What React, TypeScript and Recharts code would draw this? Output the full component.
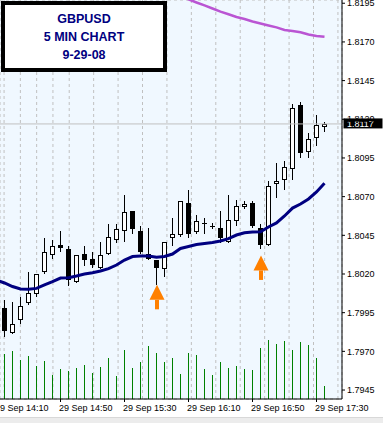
import React from 'react';
import { ComposedChart, Bar, Line, Scatter, XAxis, YAxis, CartesianGrid, ReferenceLine } from 'recharts';

const times = [
  '14:15', '14:20', '14:25', '14:30', '14:35', '14:40', '14:45', '14:50', '14:55',
  '15:00', '15:05', '15:10', '15:15', '15:20', '15:25', '15:30', '15:35', '15:40', '15:45', '15:50', '15:55',
  '16:00', '16:05', '16:10', '16:15', '16:20', '16:25', '16:30', '16:35', '16:40', '16:45', '16:50', '16:55',
  '17:00', '17:05', '17:10', '17:15', '17:20', '17:25', '17:30', '17:35',
];
const open = [1.7998, 1.7982, 1.7990, 1.8001, 1.8007, 1.8021, 1.8032, 1.8039, 1.8036, 1.8015, 1.8033, 1.8030, 1.8024, 1.8033, 1.8042, 1.8048, 1.8061, 1.8048, 1.8033, 1.8029, 1.8023, 1.8043, 1.8045, 1.8066, 1.8047, 1.8053, 1.8051, 1.8050, 1.8041, 1.8054, 1.8063, 1.8066, 1.8050, 1.8039, 1.8078, 1.8081, 1.8088, 1.8129, 1.8099, 1.8108, 1.8115];
const high = [1.8003, 1.8002, 1.8005, 1.8021, 1.8020, 1.8043, 1.8042, 1.8048, 1.8038, 1.8032, 1.8038, 1.8034, 1.8041, 1.8052, 1.8052, 1.8071, 1.8061, 1.8051, 1.8050, 1.8029, 1.8041, 1.8056, 1.8067, 1.8074, 1.8058, 1.8056, 1.8053, 1.8061, 1.8071, 1.8068, 1.8067, 1.8067, 1.8052, 1.8080, 1.8092, 1.8093, 1.8130, 1.8131, 1.8111, 1.8123, 1.8118];
const low = [1.7979, 1.7981, 1.7988, 1.8000, 1.8005, 1.8020, 1.8030, 1.8034, 1.8012, 1.8014, 1.8025, 1.8024, 1.8023, 1.8032, 1.8040, 1.8041, 1.8046, 1.8033, 1.8029, 1.8013, 1.8018, 1.8038, 1.8044, 1.8043, 1.8046, 1.8046, 1.8049, 1.8040, 1.8040, 1.8051, 1.8062, 1.8050, 1.8036, 1.8038, 1.8069, 1.8074, 1.8081, 1.8095, 1.8095, 1.8103, 1.8112];
const close = [1.7983, 1.7988, 1.7999, 1.8008, 1.8020, 1.8034, 1.8038, 1.8037, 1.8016, 1.8032, 1.8029, 1.8026, 1.8032, 1.8044, 1.8049, 1.8060, 1.8049, 1.8034, 1.8030, 1.8024, 1.8041, 1.8046, 1.8067, 1.8046, 1.8054, 1.8052, 1.8051, 1.8043, 1.8055, 1.8064, 1.8065, 1.8051, 1.8039, 1.8077, 1.8080, 1.8089, 1.8127, 1.8098, 1.8107, 1.8116, 1.8117];
const volume = [45, 48, 39, 43, 33, 38, 24, 30, 28, 31, 34, 26, 32, 41, 23, 49, 31, 37, 53, 46, 37, 41, 25, 46, 44, 30, 24, 37, 31, 33, 30, 29, 51, 59, 55, 58, 49, 57, 54, 41, 13];
// fast moving average (the first value belongs to the 14:10 bar, left of the window)
const maFastPrev = 1.8016;
const maFast = [1.80142, 1.80119, 1.80103, 1.80101, 1.80107, 1.80129, 1.8015, 1.80174, 1.80176, 1.80187, 1.8020, 1.80208, 1.80219, 1.80235, 1.80258, 1.8029, 1.80313, 1.80316, 1.80316, 1.80308, 1.80313, 1.80329, 1.80365, 1.80378, 1.80391, 1.80397, 1.80403, 1.80413, 1.80429, 1.80452, 1.80467, 1.80471, 1.80473, 1.80504, 1.8053, 1.80575, 1.80626, 1.80652, 1.80685, 1.8073, 1.80786];
// slow moving average, visible from the 16:05 bar on
const maSlowStart = 22;
const maSlow = [1.81994, 1.81975, 1.81955, 1.81936, 1.81916, 1.81896, 1.81879, 1.81861, 1.81848, 1.81832, 1.81819, 1.81806, 1.81794, 1.81777, 1.81771, 1.81763, 1.81748, 1.81739, 1.81734];
const arrowBars = [19, 32];
const arrowPrices = [1.8013, 1.8032];
const priceTicks = [1.7945, 1.7970, 1.7995, 1.8020, 1.8045, 1.8070, 1.8095, 1.8120, 1.8145, 1.8170, 1.8195];
const timeTickPos = [-1, 3, 7, 11, 15, 19, 23, 27, 31, 35, 39];
const timeTickLabels = ['29 Sep 14:10', '', '29 Sep 14:50', '', '29 Sep 15:30', '', '29 Sep 16:10', '', '29 Sep 16:50', '', '29 Sep 17:30'];
const lastPrice = 1.8117;

const rows: any[] = [
  { k: -1, ma: maFastPrev },
  ...times.map((t, i) => ({
    k: i,
    t,
    o: open[i],
    h: high[i],
    l: low[i],
    c: close[i],
    range: [low[i], high[i]],
    vol: volume[i],
    ma: maFast[i],
    ma2: i >= maSlowStart ? maSlow[i - maSlowStart] : undefined,
  })),
];
const arrowData = arrowBars.map((k, i) => ({ k, p: arrowPrices[i] }));

const FONT = '"Liberation Sans", Arial, sans-serif';

const Candle = (props: any) => {
  const { x, y, width, height, payload } = props;
  if (!payload || payload.o == null || !isFinite(y) || !isFinite(height)) return null;
  const { o, h, l, c } = payload;
  const cx = Math.round(x + width / 2 - 0.5) + 0.5;
  const yTop = Math.min(y, y + height);
  const yBot = Math.max(y, y + height);
  const py = (v: number) => yTop + ((h - v) / (h - l)) * (yBot - yTop);
  const bTop = py(Math.max(o, c));
  const bBot = py(Math.min(o, c));
  const bull = c >= o;
  const wick = <line x1={cx} x2={cx} y1={Math.round(yTop)} y2={Math.round(yBot)} stroke="#000" strokeWidth={1} />;
  if (bBot - bTop < 1.2) {
    const yy = Math.round(bTop) + 0.5;
    return (
      <g>
        {wick}
        <line x1={cx - 2.5} x2={cx + 2.5} y1={yy} y2={yy} stroke="#000" strokeWidth={1} />
      </g>
    );
  }
  if (bull) {
    const t = Math.round(bTop) + 0.5;
    const b = Math.round(bBot) - 0.5;
    return (
      <g>
        {wick}
        <rect x={cx - 2} y={t} width={4} height={Math.max(b - t, 1)} fill="#fff" stroke="#000" strokeWidth={1} />
      </g>
    );
  }
  const t = Math.round(bTop);
  const b = Math.round(bBot);
  return (
    <g>
      {wick}
      <rect x={cx - 2.5} y={t} width={5} height={Math.max(b - t, 1)} fill="#000" />
    </g>
  );
};

const VolBar = (props: any) => {
  const { x, y, width, height } = props;
  if (!isFinite(y) || !isFinite(height) || !height) return null;
  const cx = Math.round(x + width / 2 - 0.5) + 0.5;
  return <line x1={cx} x2={cx} y1={Math.round(y)} y2={Math.round(y + height)} stroke="#008000" strokeWidth={1} shapeRendering="crispEdges" />;
};

const Arrow = (props: any) => {
  const { cx, cy } = props;
  if (!isFinite(cx) || !isFinite(cy)) return null;
  const x = cx + 0.5;
  return (
    <g fill="#FF8000">
      <polygon points={`${x},${cy} ${x - 7.5},${cy + 15} ${x + 7.5},${cy + 15}`} />
      <rect x={x - 2} y={cy + 15} width={4} height={9.5} />
    </g>
  );
};

const XTick = (props: any) => {
  const { x, y, payload } = props;
  const idx = timeTickPos.indexOf(payload.value);
  const label = idx >= 0 ? timeTickLabels[idx] : '';
  if (!label) return null;
  return (
    <g>
      <line x1={x} x2={x} y1={y} y2={y + 3} stroke="#000" strokeWidth={1} />
      <text x={x - 1.5} y={y + 12} fontSize={9} fontFamily={FONT} fill="#000" textAnchor="start">
        {label}
      </text>
    </g>
  );
};

const PriceBox = (props: any) => {
  const vb = props.viewBox || {};
  const right = (vb.x || 0) + (vb.width || 0);
  const yy = vb.y || 0;
  return (
    <g>
      <rect x={right + 1.5} y={yy - 5.5} width={39} height={10} fill="#000" />
      <text x={right + 5} y={yy + 3.3} fontSize={9} fontFamily={FONT} fill="#fff" textAnchor="start">
        {lastPrice.toFixed(4)}
      </text>
    </g>
  );
};

export default function App() {
  return (
    <div style={{ position: 'absolute', left: 0, top: 0, width: 383, height: 423, background: '#fff', overflow: 'hidden' }}>
      <ComposedChart width={383} height={418} data={rows} margin={{ top: 0, right: 0, bottom: 0, left: 0 }}>
        <CartesianGrid stroke="#c0c0c0" strokeDasharray="3 3" fill="#F0F8FF" />
        <XAxis
          xAxisId="p"
          dataKey="k"
          type="number"
          domain={[-0.5625, 42.1875]}
          allowDataOverflow
          ticks={timeTickPos}
          interval={0}
          height={19}
          tickSize={0}
          tickMargin={0}
          tickLine={false}
          axisLine={{ stroke: '#000' }}
          tick={<XTick />}
        />
        <XAxis xAxisId="v" dataKey="k" type="number" domain={[-0.5625, 42.1875]} allowDataOverflow hide />
        <YAxis
          yAxisId="p"
          orientation="right"
          width={41}
          type="number"
          domain={[1.79392, 1.81971]}
          allowDataOverflow
          ticks={priceTicks}
          interval={0}
          tickFormatter={(v: number) => v.toFixed(4)}
          tick={{ fontSize: 9, fill: '#000', fontFamily: FONT }}
          tickSize={3}
          tickMargin={2}
          axisLine={{ stroke: '#000' }}
          tickLine={{ stroke: '#000' }}
        />
        <YAxis yAxisId="vol" type="number" domain={[0, 400]} allowDataOverflow hide />
        <Bar xAxisId="v" yAxisId="vol" dataKey="vol" barSize={1} shape={<VolBar />} isAnimationActive={false} />
        <ReferenceLine xAxisId="p" yAxisId="p" y={lastPrice} stroke="#c0c0c0" label={<PriceBox />} />
        <Line xAxisId="p" yAxisId="p" dataKey="ma2" stroke="#BA55D3" strokeWidth={2.5} dot={false} activeDot={false} isAnimationActive={false} />
        <Line xAxisId="p" yAxisId="p" dataKey="ma" stroke="#000080" strokeWidth={3} dot={false} activeDot={false} isAnimationActive={false} />
        <Bar xAxisId="p" yAxisId="p" dataKey="range" barSize={5} shape={<Candle />} isAnimationActive={false} />
        <Scatter xAxisId="p" yAxisId="p" data={arrowData} dataKey="p" shape={<Arrow />} isAnimationActive={false} />
      </ComposedChart>
      <div
        style={{
          position: 'absolute',
          left: 1,
          top: 1,
          width: 158,
          height: 63,
          border: '4px solid #000',
          background: '#fff',
          display: 'flex',
          flexDirection: 'column',
          alignItems: 'center',
          justifyContent: 'center',
          color: '#000080',
          fontFamily: FONT,
          fontWeight: 'bold',
          fontSize: 12.5,
          lineHeight: '18px',
        }}
      >
        <div>GBPUSD</div>
        <div>5 MIN CHART</div>
        <div>9-29-08</div>
      </div>
      <div style={{ position: 'absolute', left: 0, top: 417, width: 383, height: 6, background: '#ececec', borderTop: '1px solid #d8d8d8', boxSizing: 'border-box' }} />
    </div>
  );
}
